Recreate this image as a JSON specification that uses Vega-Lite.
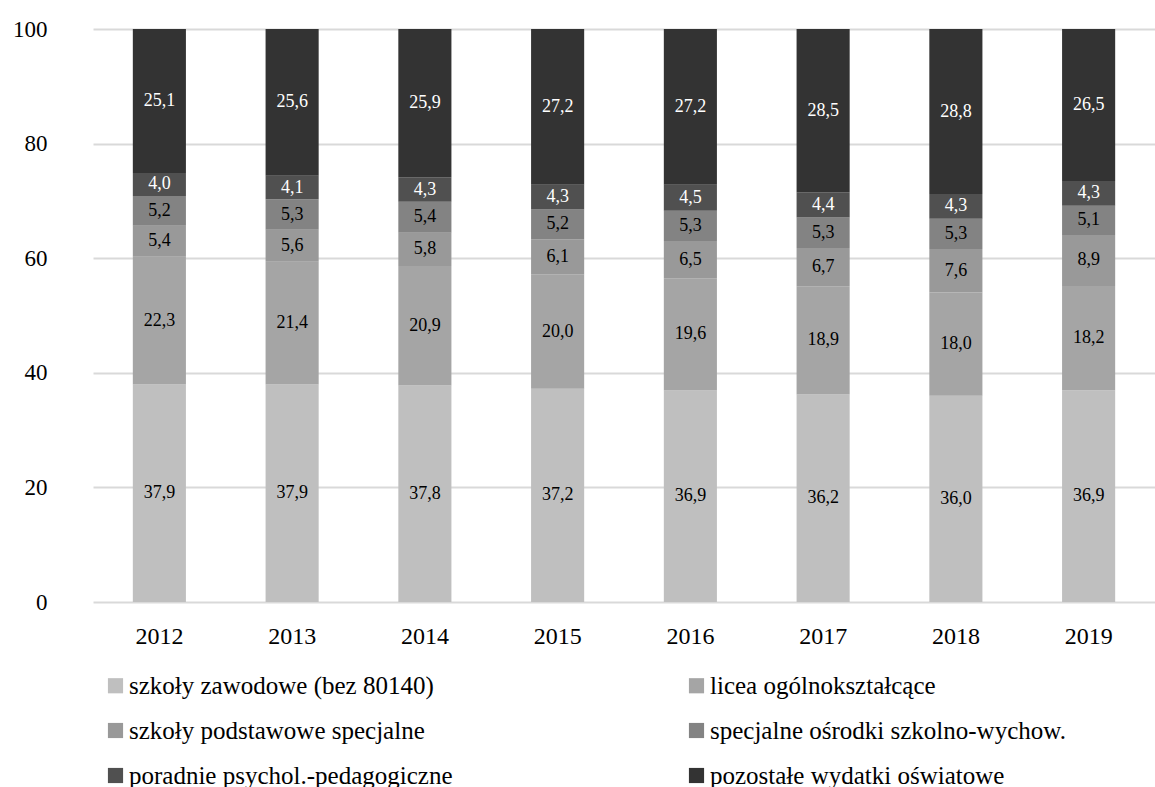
{
  "$schema": "https://vega.github.io/schema/vega-lite/v6.json",
  "width": 1062,
  "height": 573,
  "autosize": {"type": "none"},
  "padding": {"left": 93, "top": 29, "right": 0, "bottom": 185},
  "background": "white",
  "config": {
    "font": "Liberation Serif",
    "view": {"stroke": null},
    "locale": {"number": {"decimal": ",", "thousands": " ", "grouping": [3], "currency": ["", " zł"]}}
  },
  "data": {"values": [
    {"year": "2012", "cat": "szkoły zawodowe (bez 80140)", "i": 1, "v": 37.9},
    {"year": "2012", "cat": "licea ogólnokształcące", "i": 2, "v": 22.3},
    {"year": "2012", "cat": "szkoły podstawowe specjalne", "i": 3, "v": 5.4},
    {"year": "2012", "cat": "specjalne ośrodki szkolno-wychow.", "i": 4, "v": 5.2},
    {"year": "2012", "cat": "poradnie psychol.-pedagogiczne", "i": 5, "v": 4.0},
    {"year": "2012", "cat": "pozostałe wydatki oświatowe", "i": 6, "v": 25.1},
    {"year": "2013", "cat": "szkoły zawodowe (bez 80140)", "i": 1, "v": 37.9},
    {"year": "2013", "cat": "licea ogólnokształcące", "i": 2, "v": 21.4},
    {"year": "2013", "cat": "szkoły podstawowe specjalne", "i": 3, "v": 5.6},
    {"year": "2013", "cat": "specjalne ośrodki szkolno-wychow.", "i": 4, "v": 5.3},
    {"year": "2013", "cat": "poradnie psychol.-pedagogiczne", "i": 5, "v": 4.1},
    {"year": "2013", "cat": "pozostałe wydatki oświatowe", "i": 6, "v": 25.6},
    {"year": "2014", "cat": "szkoły zawodowe (bez 80140)", "i": 1, "v": 37.8},
    {"year": "2014", "cat": "licea ogólnokształcące", "i": 2, "v": 20.9},
    {"year": "2014", "cat": "szkoły podstawowe specjalne", "i": 3, "v": 5.8},
    {"year": "2014", "cat": "specjalne ośrodki szkolno-wychow.", "i": 4, "v": 5.4},
    {"year": "2014", "cat": "poradnie psychol.-pedagogiczne", "i": 5, "v": 4.3},
    {"year": "2014", "cat": "pozostałe wydatki oświatowe", "i": 6, "v": 25.9},
    {"year": "2015", "cat": "szkoły zawodowe (bez 80140)", "i": 1, "v": 37.2},
    {"year": "2015", "cat": "licea ogólnokształcące", "i": 2, "v": 20.0},
    {"year": "2015", "cat": "szkoły podstawowe specjalne", "i": 3, "v": 6.1},
    {"year": "2015", "cat": "specjalne ośrodki szkolno-wychow.", "i": 4, "v": 5.2},
    {"year": "2015", "cat": "poradnie psychol.-pedagogiczne", "i": 5, "v": 4.3},
    {"year": "2015", "cat": "pozostałe wydatki oświatowe", "i": 6, "v": 27.2},
    {"year": "2016", "cat": "szkoły zawodowe (bez 80140)", "i": 1, "v": 36.9},
    {"year": "2016", "cat": "licea ogólnokształcące", "i": 2, "v": 19.6},
    {"year": "2016", "cat": "szkoły podstawowe specjalne", "i": 3, "v": 6.5},
    {"year": "2016", "cat": "specjalne ośrodki szkolno-wychow.", "i": 4, "v": 5.3},
    {"year": "2016", "cat": "poradnie psychol.-pedagogiczne", "i": 5, "v": 4.5},
    {"year": "2016", "cat": "pozostałe wydatki oświatowe", "i": 6, "v": 27.2},
    {"year": "2017", "cat": "szkoły zawodowe (bez 80140)", "i": 1, "v": 36.2},
    {"year": "2017", "cat": "licea ogólnokształcące", "i": 2, "v": 18.9},
    {"year": "2017", "cat": "szkoły podstawowe specjalne", "i": 3, "v": 6.7},
    {"year": "2017", "cat": "specjalne ośrodki szkolno-wychow.", "i": 4, "v": 5.3},
    {"year": "2017", "cat": "poradnie psychol.-pedagogiczne", "i": 5, "v": 4.4},
    {"year": "2017", "cat": "pozostałe wydatki oświatowe", "i": 6, "v": 28.5},
    {"year": "2018", "cat": "szkoły zawodowe (bez 80140)", "i": 1, "v": 36.0},
    {"year": "2018", "cat": "licea ogólnokształcące", "i": 2, "v": 18.0},
    {"year": "2018", "cat": "szkoły podstawowe specjalne", "i": 3, "v": 7.6},
    {"year": "2018", "cat": "specjalne ośrodki szkolno-wychow.", "i": 4, "v": 5.3},
    {"year": "2018", "cat": "poradnie psychol.-pedagogiczne", "i": 5, "v": 4.3},
    {"year": "2018", "cat": "pozostałe wydatki oświatowe", "i": 6, "v": 28.8},
    {"year": "2019", "cat": "szkoły zawodowe (bez 80140)", "i": 1, "v": 36.9},
    {"year": "2019", "cat": "licea ogólnokształcące", "i": 2, "v": 18.2},
    {"year": "2019", "cat": "szkoły podstawowe specjalne", "i": 3, "v": 8.9},
    {"year": "2019", "cat": "specjalne ośrodki szkolno-wychow.", "i": 4, "v": 5.1},
    {"year": "2019", "cat": "poradnie psychol.-pedagogiczne", "i": 5, "v": 4.3},
    {"year": "2019", "cat": "pozostałe wydatki oświatowe", "i": 6, "v": 26.5}
  ]},
  "encoding": {
    "x": {
      "field": "year", "type": "nominal", "title": null,
      "scale": {"paddingInner": 0.6, "paddingOuter": 0.3},
      "axis": {"labelAngle": 0, "domain": false, "ticks": false, "labelFont": "Liberation Serif", "labelFontSize": 24, "labelColor": "#000", "labelPadding": 22}
    }
  },
  "layer": [
    {
      "mark": {"type": "bar"},
      "encoding": {
        "y": {
          "field": "v", "type": "quantitative", "stack": "normalize", "title": null,
          "scale": {"domain": [0, 1]},
          "axis": {"values": [0, 0.2, 0.4, 0.6, 0.8, 1], "labelExpr": "format(datum.value*100, 'd')", "domain": false, "ticks": false, "gridColor": "#d9d9d9", "gridWidth": 2, "labelFont": "Liberation Serif", "labelFontSize": 23, "labelColor": "#000", "labelPadding": 46}
        },
        "color": {
          "field": "cat", "type": "nominal",
          "scale": {
            "domain": ["szkoły zawodowe (bez 80140)", "licea ogólnokształcące", "szkoły podstawowe specjalne", "specjalne ośrodki szkolno-wychow.", "poradnie psychol.-pedagogiczne", "pozostałe wydatki oświatowe"],
            "range": ["#bfbfbf", "#a5a5a5", "#999999", "#838383", "#505050", "#333333"]
          },
          "legend": {
            "orient": "none", "legendX": 10, "legendY": 644, "columns": 2, "direction": "horizontal", "title": null,
            "symbolType": "square", "symbolSize": 230, "symbolStrokeWidth": 0,
            "labelFont": "Liberation Serif", "labelFontSize": 25, "labelColor": "#000",
            "labelLimit": 600, "labelOffset": 1, "rowPadding": 19, "columnPadding": 231
          }
        },
        "order": {"field": "i", "type": "quantitative"}
      }
    },
    {
      "transform": [
        {"stack": "v", "groupby": ["year"], "sort": [{"field": "i", "order": "ascending"}], "offset": "normalize", "as": ["y0", "y1"]},
        {"calculate": "(datum.y0 + datum.y1) / 2", "as": "ymid"}
      ],
      "mark": {"type": "text", "fontSize": 18, "font": "Liberation Serif", "baseline": "middle"},
      "encoding": {
        "y": {"field": "ymid", "type": "quantitative"},
        "text": {"field": "v", "type": "quantitative", "format": ".1f"},
        "color": {"condition": {"test": "datum.i >= 5", "value": "#ffffff"}, "value": "#000000"}
      }
    }
  ]
}
